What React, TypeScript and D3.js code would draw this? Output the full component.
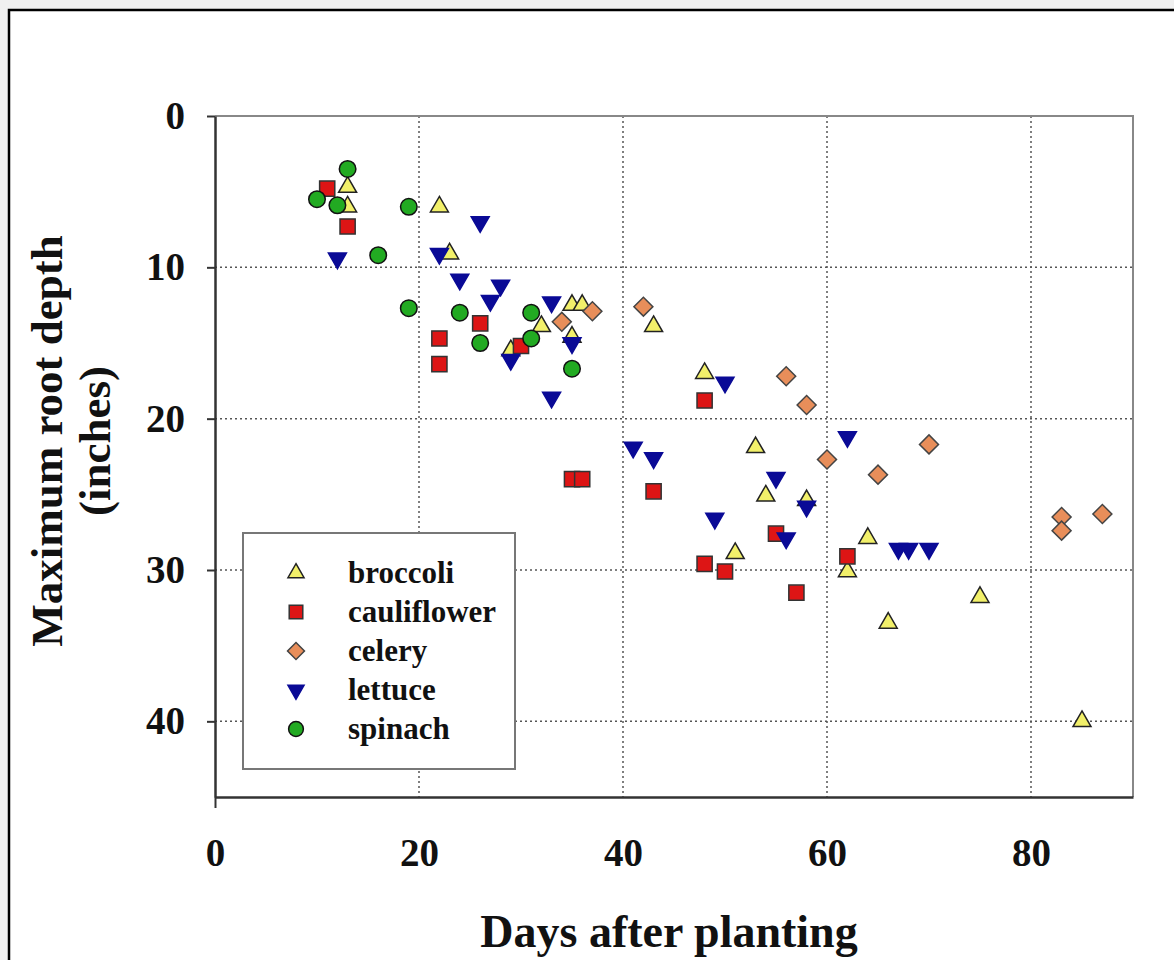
import React, { useRef, useEffect } from "react";
import * as d3 from "d3";

// [days after planting, max root depth in inches]
const broccoli = [
  [13, 4.7], [13, 6.0], [22, 6.0], [23, 9.1], [29, 15.5], [32, 13.9], [35, 12.5], [35, 14.6],
  [36, 12.5], [43, 13.9], [48, 17.0], [51, 28.9], [53, 21.9], [54, 25.1], [58, 25.4],
  [62, 30.1], [64, 27.9], [66, 33.5], [75, 31.8], [85, 40.0],
];
const cauliflower = [
  [11, 4.8], [13, 7.3], [22, 14.7], [22, 16.4], [26, 13.7], [30, 15.2], [35, 24.0], [36, 24.0],
  [43, 24.8], [48, 18.8], [48, 29.6], [50, 30.1], [55, 27.6], [57, 31.5], [62, 29.1],
];
const celery = [
  [34, 13.6], [37, 12.9], [42, 12.6], [56, 17.2], [58, 19.1], [60, 22.7], [65, 23.7],
  [70, 21.7], [83, 26.5], [83, 27.4], [87, 26.3],
];
const lettuce = [
  [12, 9.4], [22, 9.1], [24, 10.8], [26, 7.0], [27, 12.2], [28, 11.2], [29, 16.1], [33, 12.3],
  [33, 18.6], [35, 15.0], [41, 21.9], [43, 22.6], [49, 26.6], [50, 17.6], [55, 23.9],
  [56, 27.9], [58, 25.8], [62, 21.2], [67, 28.6], [68, 28.6], [70, 28.6],
];
const spinach = [
  [10, 5.5], [12, 5.9], [13, 3.5], [16, 9.2], [19, 6.0], [19, 12.7], [24, 13.0], [26, 15.0],
  [31, 13.0], [31, 14.7], [35, 16.7],
];

const seriesNames = ["broccoli", "cauliflower", "celery", "lettuce", "spinach"];
const xTicks = [0, 20, 40, 60, 80];
const yTicks = [0, 10, 20, 30, 40];

const styles = {
  broccoli: { fill: "#f2f06a", stroke: "#222", type: d3.symbolTriangle, size: 140, rot: 0 },
  cauliflower: { fill: "#dd1515", stroke: "#333", type: d3.symbolSquare, size: 230, rot: 0 },
  celery: { fill: "#e88e5a", stroke: "#444", type: d3.symbolSquare, size: 180, rot: 45 },
  lettuce: { fill: "#0a0a96", stroke: "#0a0a96", type: d3.symbolTriangle, size: 140, rot: 180 },
  spinach: { fill: "#22aa22", stroke: "#111", type: d3.symbolCircle, size: 215, rot: 0 },
};

export default function App() {
  const ref = useRef<SVGSVGElement>(null);

  useEffect(() => {
    const W = 1174, H = 960;
    const left = 215, right = 1133, top = 116, bottom = 797;
    const font = "'Liberation Serif', 'Times New Roman', serif";

    const svg = d3.select(ref.current);
    svg.selectAll("*").remove();
    svg.attr("width", W).attr("height", H);

    // page frame
    svg.append("rect").attr("width", W).attr("height", H).attr("fill", "#f0f0f0");
    svg.append("rect").attr("x", 9).attr("y", 10).attr("width", W + 10).attr("height", H + 10)
      .attr("fill", "#fff").attr("stroke", "#000").attr("stroke-width", 2.5);

    const x = d3.scaleLinear().domain([0, 90]).range([left, right]);
    const y = d3.scaleLinear().domain([0, 45]).range([top, bottom]);

    // grid
    const grid = svg.append("g");
    grid.selectAll("line.gx").data(xTicks.slice(1)).join("line")
      .attr("x1", d => x(d)).attr("x2", d => x(d)).attr("y1", top).attr("y2", bottom)
      .attr("stroke", "#555").attr("stroke-width", 1.5).attr("stroke-dasharray", "2 3");
    grid.selectAll("line.gy").data(yTicks.slice(1)).join("line")
      .attr("x1", left).attr("x2", right).attr("y1", d => y(d)).attr("y2", d => y(d))
      .attr("stroke", "#555").attr("stroke-width", 1.5).attr("stroke-dasharray", "2 3");

    // top/right border
    svg.append("path").attr("d", `M${left},${top}H${right}V${bottom}`)
      .attr("fill", "none").attr("stroke", "#888").attr("stroke-width", 2);

    // axes
    const yAxis = svg.append("g").attr("transform", `translate(${left},0)`)
      .call(d3.axisLeft(y).tickValues(yTicks).tickSize(8).tickPadding(22).tickSizeOuter(0));
    const xAxis = svg.append("g").attr("transform", `translate(0,${bottom})`)
      .call(d3.axisBottom(x).tickValues(xTicks).tickSize(11).tickPadding(30).tickSizeOuter(0));
    [yAxis, xAxis].forEach(a => {
      a.select(".domain").attr("stroke", "#333").attr("stroke-width", 2.5);
      a.selectAll(".tick line").attr("stroke", "#333").attr("stroke-width", 2);
      a.selectAll("text").attr("font-family", font).attr("font-weight", "bold")
        .attr("font-size", 39).attr("fill", "#111");
    });
    xAxis.selectAll(".tick line").attr("y2", d => (d === 0 ? 11 : 0));

    // points
    const data = { broccoli, cauliflower, celery, lettuce, spinach };
    seriesNames.forEach(name => {
      const s = styles[name];
      const sym = d3.symbol().type(s.type).size(s.size);
      svg.append("g").selectAll("path").data(data[name]).join("path")
        .attr("d", sym)
        .attr("transform", d => `translate(${x(d[0])},${y(d[1])}) rotate(${s.rot})`)
        .attr("fill", s.fill).attr("stroke", s.stroke).attr("stroke-width", 1.5);
    });

    // legend
    const lg = svg.append("g");
    lg.append("rect").attr("x", 243).attr("y", 533).attr("width", 272).attr("height", 236)
      .attr("fill", "#fff").attr("stroke", "#777").attr("stroke-width", 2);
    const ly = d3.scalePoint().domain(seriesNames).range([573, 729]);
    seriesNames.forEach(name => {
      const s = styles[name];
      const sym = d3.symbol().type(s.type).size(s.size * 0.8);
      lg.append("path").attr("d", sym())
        .attr("transform", `translate(296,${ly(name)}) rotate(${s.rot})`)
        .attr("fill", s.fill).attr("stroke", s.stroke).attr("stroke-width", 1.5);
      lg.append("text").attr("x", 348).attr("y", ly(name)).attr("dy", "0.33em")
        .attr("font-family", font).attr("font-weight", "bold").attr("font-size", 31)
        .attr("fill", "#111").text(name);
    });

    // titles
    svg.append("text").attr("x", 669).attr("y", 947).attr("text-anchor", "middle")
      .attr("font-family", font).attr("font-weight", "bold").attr("font-size", 46)
      .attr("fill", "#111").text("Days after planting");
    const yt = svg.append("g").attr("transform", "translate(0,441) rotate(-90)");
    yt.append("text").attr("x", 0).attr("y", 62).attr("text-anchor", "middle")
      .attr("font-family", font).attr("font-weight", "bold").attr("font-size", 45)
      .attr("fill", "#111").text("Maximum root depth");
    yt.append("text").attr("x", 0).attr("y", 110).attr("text-anchor", "middle")
      .attr("font-family", font).attr("font-weight", "bold").attr("font-size", 45)
      .attr("fill", "#111").text("(inches)");
  }, []);

  return <svg ref={ref} style={{ position: "absolute", left: 0, top: 0, display: "block" }}></svg>;
}
